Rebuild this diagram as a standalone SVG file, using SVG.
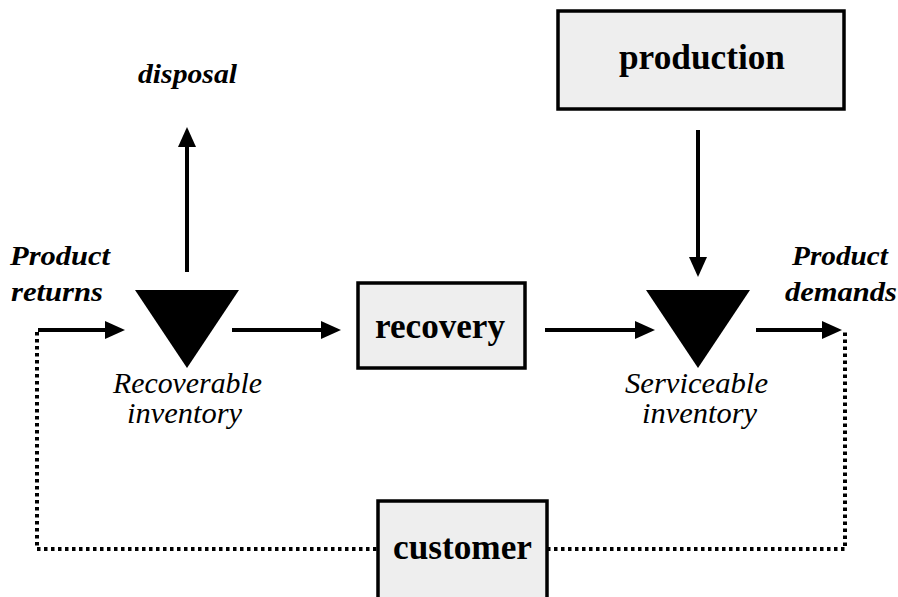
<svg xmlns="http://www.w3.org/2000/svg" width="898" height="597" viewBox="0 0 898 597">
<style>
.box{fill:#eeeeee;stroke:#000;stroke-width:3.5}
.blabel{font-family:"Liberation Serif","Times New Roman",serif;font-weight:bold;font-size:35px;fill:#000}
.lab{font-family:"Liberation Serif","Times New Roman",serif;font-style:italic;font-weight:bold;font-size:28px;fill:#000}
.lab2{font-family:"Liberation Serif","Times New Roman",serif;font-style:italic;font-size:29px;fill:#000}
.arrow{stroke:#000;stroke-width:4;fill:none;marker-end:url(#ah)}
.dot{stroke:#000;stroke-width:4;fill:none;stroke-dasharray:3.5 3.5}
.tri{fill:#000}
</style>
<defs>
<marker id="ah" markerUnits="userSpaceOnUse" markerWidth="22" markerHeight="20" refX="2" refY="9" orient="auto">
<path d="M0,0 L20,9 L0,18 z" fill="#000"/>
</marker>
</defs>
<g id="connectors">
<line class="arrow" x1="38" y1="330" x2="107" y2="330"/>
<line class="arrow" x1="232" y1="330" x2="323" y2="330"/>
<line class="arrow" x1="545" y1="330" x2="637" y2="330"/>
<line class="arrow" x1="756" y1="330" x2="824" y2="330"/>
<line class="arrow" x1="187" y1="272" x2="187" y2="145"/>
<line class="arrow" x1="698" y1="130" x2="698" y2="259"/>
<path class="dot" d="M37,332 L37,549 L378,549"/>
<path class="dot" d="M547,549 L845,549 L845,332"/>
</g>
<g id="recoverable-inventory">
<polygon class="tri" points="135,290 239,290 187,368"/>
<text class="lab2" x="113" y="393" textLength="149" lengthAdjust="spacingAndGlyphs">Recoverable</text>
<text class="lab2" x="127" y="423" textLength="115" lengthAdjust="spacingAndGlyphs">inventory</text>
</g>
<g id="serviceable-inventory">
<polygon class="tri" points="646,290 750,290 698,368"/>
<text class="lab2" x="625" y="393" textLength="143" lengthAdjust="spacingAndGlyphs">Serviceable</text>
<text class="lab2" x="642" y="423" textLength="115" lengthAdjust="spacingAndGlyphs">inventory</text>
</g>
<g id="production">
<rect class="box" x="558" y="11" width="286" height="98"/>
<text class="blabel" x="619" y="69" textLength="166" lengthAdjust="spacingAndGlyphs">production</text>
</g>
<g id="recovery">
<rect class="box" x="358" y="283" width="167" height="85"/>
<text class="blabel" x="375" y="338" textLength="130" lengthAdjust="spacingAndGlyphs">recovery</text>
</g>
<g id="customer">
<rect class="box" x="378" y="501" width="169" height="100"/>
<text class="blabel" x="393" y="559" textLength="139" lengthAdjust="spacingAndGlyphs">customer</text>
</g>
<g id="disposal">
<text class="lab" x="138" y="83" textLength="99" lengthAdjust="spacingAndGlyphs">disposal</text>
</g>
<g id="product-returns">
<text class="lab" x="10" y="265" textLength="100" lengthAdjust="spacingAndGlyphs">Product</text>
<text class="lab" x="11" y="301" textLength="92" lengthAdjust="spacingAndGlyphs">returns</text>
</g>
<g id="product-demands">
<text class="lab" x="792" y="265" textLength="96" lengthAdjust="spacingAndGlyphs">Product</text>
<text class="lab" x="785" y="301" textLength="112" lengthAdjust="spacingAndGlyphs">demands</text>
</g>
</svg>
